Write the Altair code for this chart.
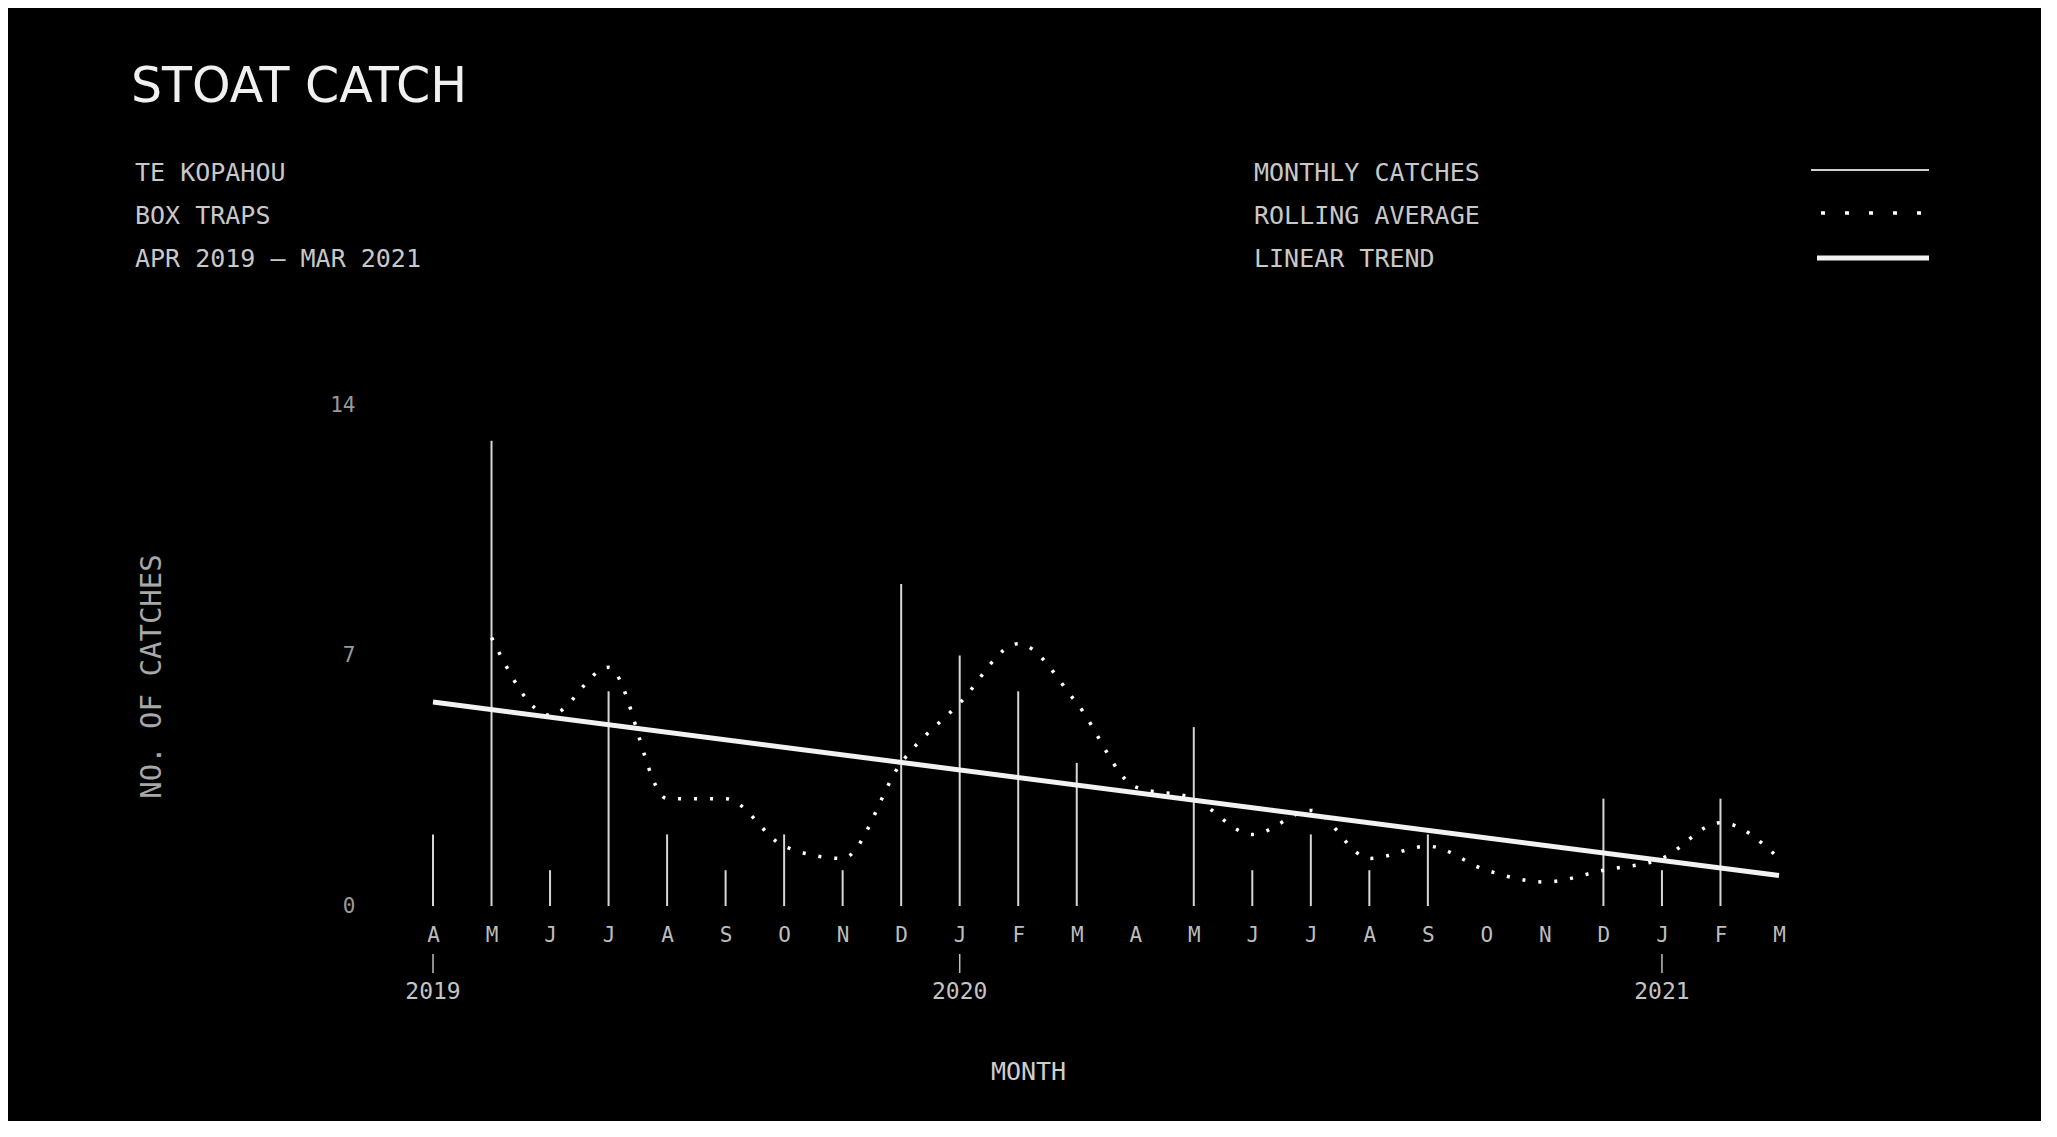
import json
import altair as alt
import pandas as pd

# ---- data ----
month_letters = ["A", "M", "J", "J", "A", "S", "O", "N", "D", "J", "F", "M",
                 "A", "M", "J", "J", "A", "S", "O", "N", "D", "J", "F", "M"]
month_index = list(range(24))
catches = [2, 13, 1, 6, 2, 1, 2, 1, 9, 7, 6, 4, 0, 5, 1, 2, 1, 2, 0, 0, 3, 1, 3, 0]

rolling_index = list(range(1, 24))
rolling_avg = [7.5, 5.33, 6.67, 3.0, 3.0, 1.67, 1.33, 4.0, 5.67, 7.33, 5.67, 3.33,
               3.0, 2.0, 2.67, 1.33, 1.67, 1.0, 0.67, 1.0, 1.33, 2.33, 1.33]

trend_index = [0, 23]
trend_values = [5.7, 0.85]

year_labels = ["2019", "2020", "2021"]
year_index = [0, 9, 21]

title_text = "STOAT CATCH"
subtitle_lines = ["TE KOPAHOU", "BOX TRAPS", "APR 2019 — MAR 2021"]
legend_labels = ["MONTHLY CATCHES", "ROLLING AVERAGE", "LINEAR TREND"]

MONO = "DejaVu Sans Mono"

df_m = pd.DataFrame({"idx": month_index, "value": catches})
df_r = pd.DataFrame({"idx": rolling_index, "value": rolling_avg})
df_t = pd.DataFrame({"idx": trend_index, "value": trend_values})
df_y = pd.DataFrame({"idx": year_index, "label": year_labels})
df_one = pd.DataFrame({"k": [0]})

label_expr = json.dumps(month_letters) + "[datum.value]"

x_axis = alt.Axis(
    values=month_index, labelExpr=label_expr, title="MONTH",
    grid=False, ticks=False, domain=False, labelFlush=False, labelOverlap=False,
    labelBound=False,
    labelFont=MONO, labelFontSize=21, labelColor="#bdbdbd", labelPadding=18,
    labelBaseline="top",
    titleFont=MONO, titleFontSize=25, titleFontWeight="normal", titleColor="#cfcfcf",
    titleX=595, titleY=165, titleAlign="center", titleBaseline="middle",
)
y_axis = alt.Axis(
    values=[0, 7, 14], title="NO. OF CATCHES",
    grid=False, ticks=False, domain=False, labelFlush=False, labelOverlap=False,
    labelFont=MONO, labelFontSize=21, labelColor="#9a9a9a", labelPadding=78,
    titleFont=MONO, titleFontSize=29, titleFontWeight="normal", titleColor="#a8a8a8",
    titleX=-282, titleY=271, titleAngle=270, titleAlign="center", titleBaseline="middle",
)

X = alt.X("idx:Q", scale=alt.Scale(domain=[0, 23], nice=False, zero=False), axis=x_axis)
Y = alt.Y("value:Q", scale=alt.Scale(domain=[0, 14], nice=False), axis=y_axis)

monthly = alt.Chart(df_m).mark_rule(color="#d6d6d6", strokeWidth=2).encode(
    x=X, y=Y, y2=alt.datum(0)
)
rolling = alt.Chart(df_r).mark_line(
    interpolate="monotone", strokeDash=[3, 13], strokeWidth=3.5,
    color="#ffffff", strokeCap="butt"
).encode(x=X, y=Y)
trend = alt.Chart(df_t).mark_line(strokeWidth=5, color="#f2f2f2").encode(x=X, y=Y)

year_ticks = alt.Chart(df_y).mark_rule(color="#bdbdbd", strokeWidth=1.5).encode(
    x=X, y=alt.value(549), y2=alt.value(568)
)
year_text = alt.Chart(df_y).mark_text(
    font=MONO, fontSize=23, color="#c4c4c4", align="center", baseline="middle"
).encode(x=X, y=alt.value(587), text="label:N")

title = alt.Chart(df_one).mark_text(
    font="DejaVu Sans", fontSize=49, color="#f0f0f0", align="left", baseline="alphabetic"
).encode(x=alt.value(-302), y=alt.value(-303), text=alt.value(title_text))

subtitle = alt.Chart(df_one).mark_text(
    font=MONO, fontSize=25, color="#c8c8c8", align="left", baseline="alphabetic",
    lineHeight=43
).encode(x=alt.value(-298), y=alt.value(-224), text=alt.value(subtitle_lines))

legend_text = alt.Chart(df_one).mark_text(
    font=MONO, fontSize=25, color="#c8c8c8", align="left", baseline="alphabetic",
    lineHeight=43
).encode(x=alt.value(821), y=alt.value(-224), text=alt.value(legend_labels))

leg_monthly = alt.Chart(df_one).mark_rule(color="#cfcfcf", strokeWidth=2).encode(
    x=alt.value(1378), x2=alt.value(1496), y=alt.value(-235)
)
leg_rolling = alt.Chart(df_one).mark_rule(
    color="#ffffff", strokeWidth=3.5, strokeDash=[4, 20], strokeCap="butt"
).encode(x=alt.value(1388), x2=alt.value(1492), y=alt.value(-192))
leg_trend = alt.Chart(df_one).mark_rule(color="#f2f2f2", strokeWidth=5).encode(
    x=alt.value(1384), x2=alt.value(1496), y=alt.value(-147)
)

chart = alt.layer(
    monthly, rolling, trend, year_ticks, year_text,
    title, subtitle, legend_text, leg_monthly, leg_rolling, leg_trend
).properties(
    width=1346, height=501,
    padding={"left": 425, "top": 397, "right": 262, "bottom": 215},
    autosize=alt.AutoSizeParams(type="none"),
    background="#000000",
).configure_view(stroke=None)

chart.save("out.html", embed_options={"renderer": "svg", "actions": False})
